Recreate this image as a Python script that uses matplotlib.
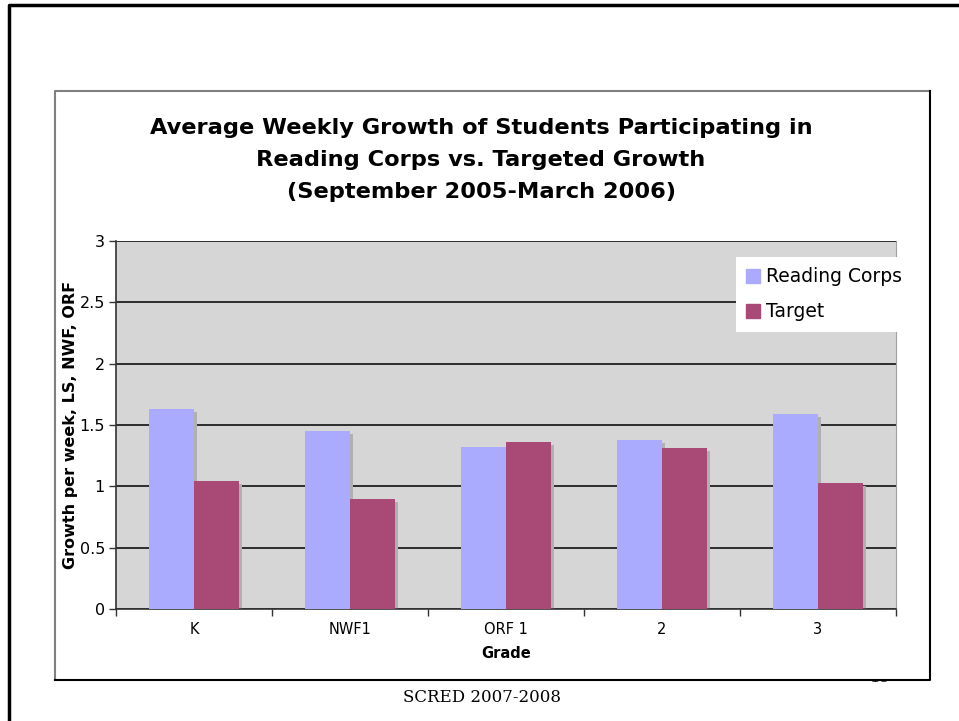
import numpy as np
import matplotlib
matplotlib.use('Agg')
import matplotlib.pyplot as plt
from matplotlib.patches import Rectangle, Patch
from matplotlib.lines import Line2D
from matplotlib.transforms import ScaledTranslation

# Growth per week by grade
grades = ['K', 'NWF1', 'ORF 1', '2', '3']
reading_corps = [1.63, 1.45, 1.32, 1.38, 1.59]
target = [1.04, 0.90, 1.36, 1.31, 1.03]
yticks = [0, 0.5, 1, 1.5, 2, 2.5, 3]

W, H = 959, 721
fig = plt.figure(figsize=(W / 100, H / 100), dpi=100)
fig.patch.set_facecolor('white')

def fx(px):
    return px / W

def fy(py):
    return 1 - py / H

# slide number sits behind the chart box
fig.text(fx(880), fy(677), '19', fontsize=12, color='#222222',
         family='DejaVu Serif', ha='center', va='center', zorder=0)

# chart box
fig.add_artist(Rectangle((fx(55), fy(680)), fx(930) - fx(55), fy(90.5) - fy(680),
                         transform=fig.transFigure, facecolor='white',
                         edgecolor='none', zorder=1))
fig.add_artist(Line2D([fx(55), fx(55), fx(930)], [fy(680), fy(90.5), fy(90.5)],
                      transform=fig.transFigure, color='#808080', lw=1.5, zorder=2))
fig.add_artist(Line2D([fx(55), fx(930), fx(930)], [fy(680), fy(680), fy(90.5)],
                      transform=fig.transFigure, color='black', lw=1.5, zorder=2))

# slide frame
fig.add_artist(Line2D([fx(9), fx(9), fx(959)], [0, fy(5), fy(5)],
                      transform=fig.transFigure, color='black', lw=2.5, zorder=2))

ax = fig.add_axes([fx(116), fy(609), fx(896) - fx(116), fy(241) - fy(609)], zorder=3)
ax.set_facecolor('#D6D6D6')

x = np.arange(len(grades))
bw = 0.288
shadow = ax.transData + ScaledTranslation(3 / 100, -3 / 100, fig.dpi_scale_trans)
ax.bar(x - bw / 2, reading_corps, bw, color='#B0B0B0', transform=shadow, zorder=2)
ax.bar(x + bw / 2, target, bw, color='#B0B0B0', transform=shadow, zorder=2)
ax.bar(x - bw / 2, reading_corps, bw, color='#AAAAFF', zorder=3)
ax.bar(x + bw / 2, target, bw, color='#A94A76', zorder=3)

ax.set_xlim(-0.5, len(grades) - 0.5)
ax.set_ylim(0, 3)
ax.set_yticks(yticks)
ax.set_yticklabels(['0', '0.5', '1', '1.5', '2', '2.5', '3'])
ax.yaxis.grid(True, color='#111111', lw=1.2)
ax.set_axisbelow(True)

ax.set_xticks(x)
ax.set_xticklabels(grades)
ax.set_xticks(np.arange(-0.5, len(grades)), minor=True)
ax.tick_params(axis='x', which='major', length=0, pad=9, labelsize=10.5)
ax.tick_params(axis='x', which='minor', length=5, width=1, color='#333333')
ax.tick_params(axis='y', length=5, width=1, color='#333333', labelsize=11.5, pad=3)

ax.spines['top'].set_visible(False)
ax.spines['right'].set_color('#A0A0A0')
ax.spines['left'].set_color('#333333')
ax.spines['bottom'].set_color('#333333')
ax.spines['left'].set_linewidth(1.2)
ax.spines['bottom'].set_linewidth(1.2)

ax.set_xlabel('Grade', fontsize=10.5, fontweight='bold', labelpad=7)
ax.set_ylabel('Growth per week, LS, NWF, ORF', fontsize=11.5, fontweight='bold', labelpad=1)

handles = [Patch(color='#AAAAFF', label='Reading Corps'),
           Patch(color='#A94A76', label='Target')]
leg = fig.legend(handles=handles, loc='upper left', bbox_to_anchor=(fx(736), fy(257)),
                 frameon=True, fancybox=False, framealpha=1, edgecolor='white',
                 fontsize=13.5, handlelength=0.75, handleheight=0.75, handletextpad=0.3,
                 labelspacing=0.85, borderpad=0.55, borderaxespad=0)
leg.get_frame().set_linewidth(0)
leg.set_zorder(5)

fig.text(fx(481), fy(160),
         'Average Weekly Growth of Students Participating in\n'
         'Reading Corps vs. Targeted Growth\n'
         '(September 2005-March 2006)',
         fontsize=16.2, fontweight='bold', ha='center', va='center',
         linespacing=1.76, zorder=4)

fig.text(fx(482), fy(697), 'SCRED 2007-2008', fontsize=12,
         family='DejaVu Serif', ha='center', va='center', zorder=4)

fig.savefig('out.png', dpi=100)
